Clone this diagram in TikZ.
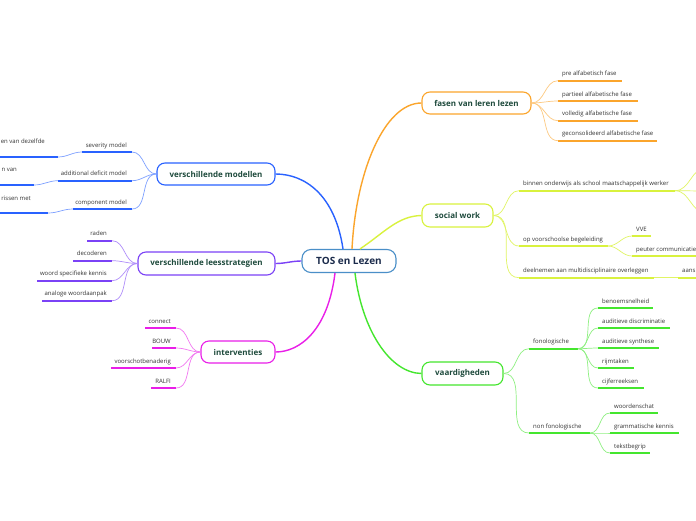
\documentclass[tikz,border=0pt]{standalone}
\usepackage{fontspec}
\setmainfont{Open Sans}
\usetikzlibrary{calc}
\definecolor{cOr}{HTML}{FBA52C}
\definecolor{cYe}{HTML}{D9F23E}
\definecolor{cGr}{HTML}{44E62E}
\definecolor{cBl}{HTML}{2962FF}
\definecolor{cPu}{HTML}{7B42F6}
\definecolor{cMa}{HTML}{E91EE8}
\definecolor{cCe}{HTML}{4A8FC8}
\definecolor{mtxt}{HTML}{1E4A3C}
\definecolor{ctxt}{HTML}{1B2B4B}
\definecolor{stxt}{HTML}{333333}
\tikzset{
  mainbox/.style={draw, rounded corners=8pt, line width=1.1pt, fill=white, text=mtxt,
    font=\bfseries\fontsize{8}{9}\selectfont, inner sep=0pt},
  centerbox/.style={draw=cCe, rounded corners=9pt, line width=1.1pt, fill=white, text=ctxt,
    font=\bfseries\fontsize{10}{11}\selectfont, inner sep=0pt, minimum width=94pt, minimum height=23pt},
  trunk/.style={line width=1.4pt},
  twig/.style={line width=0.7pt},
  ul/.style={line width=1.8pt},
  lt/.style={font=\fontsize{6}{7}\selectfont, text=stxt, inner sep=0pt},
}
\newcommand\rleaf[6]{%
  \coordinate (#1-w) at (#2,#4); \coordinate (#1-e) at (#3,#4);
  \draw[ul,#5] (#1-w) -- (#1-e);
  \node[lt,anchor=base west] (#1) at ($(#1-w)+(4,-5)$) {#6};}
\newcommand\lleaf[6]{%
  \coordinate (#1-w) at (#2,#4); \coordinate (#1-e) at (#3,#4);
  \draw[ul,#5] (#1-w) -- (#1-e);
  \node[lt,anchor=base east] (#1) at ($(#1-e)+(-5,-5)$) {#6};}
\begin{document}
\begin{tikzpicture}[x=1pt,y=-1pt]
\useasboundingbox (0,0) rectangle (696,520);
\fill[white] (0,0) rectangle (696,520);

% main nodes
\node[centerbox] (c) at (349,261) {TOS en Lezen};
\node[mainbox,draw=cOr,minimum width=109pt,minimum height=22pt] (fa) at (476.5,103) {fasen van leren lezen};
\node[mainbox,draw=cYe,minimum width=71pt,minimum height=23pt] (sw) at (457.5,215.5) {social work};
\node[mainbox,draw=cGr,minimum width=81pt,minimum height=23pt] (va) at (462.5,373.5) {vaardigheden};
\node[mainbox,draw=cBl,minimum width=118pt,minimum height=22pt] (mo) at (216,174) {verschillende modellen};
\node[mainbox,draw=cPu,minimum width=137pt,minimum height=23pt] (le) at (206.5,263.5) {verschillende leesstrategien};
\node[mainbox,draw=cMa,minimum width=74pt,minimum height=22pt] (in) at (238,352) {interventies};

% trunks
\draw[trunk,cOr] ([xshift=3pt]c.north) .. controls (356,170) and (385,103) .. (fa.west);
\draw[trunk,cYe] ([xshift=11pt]c.north) .. controls (385,232) and (398,216) .. (sw.west);
\draw[trunk,cGr] ([xshift=6pt]c.south) .. controls (362,330) and (390,373) .. (va.west);
\draw[trunk,cBl] ([xshift=-6pt]c.north) .. controls (335,195) and (305,174) .. (mo.east);
\draw[trunk,cPu] (c.west) to[out=180,in=0] (le.east);
\draw[trunk,cMa] ([xshift=-14pt]c.south) .. controls (328,330) and (300,352) .. (in.east);

% fasen van leren lezen
\rleaf{f1}{558}{622}{80.7}{cOr}{pre alfabetisch fase}
\rleaf{f2}{558}{638}{101}{cOr}{partieel alfabetische fase}
\rleaf{f3}{558}{638}{120.7}{cOr}{volledig alfabetische fase}
\rleaf{f4}{558}{657}{140.7}{cOr}{geconsolideerd alfabetische fase}
\foreach \n in {f1,f2,f3,f4} \draw[twig,cOr!60] (fa.east) to[out=0,in=180] (\n-w);

% social work
\rleaf{s1}{519}{675}{190.7}{cYe}{binnen onderwijs als school maatschappelijk werker}
\rleaf{s2}{519}{608}{246}{cYe}{op voorschoolse begeleiding}
\rleaf{s3}{519}{654}{277.7}{cYe}{deelnemen aan multidisciplinaire overleggen}
\foreach \n in {s1,s2,s3} \draw[twig,cYe!80] (sw.east) to[out=0,in=180] (\n-w);
\coordinate (sx1) at (706,168);
\coordinate (sx2) at (706,191);
\coordinate (sx3) at (706,213);
\foreach \n in {sx1,sx2,sx3} \draw[twig,cYe!80] (s1-e) to[out=0,in=180] (\n);
\rleaf{s2a}{632}{651}{236}{cYe}{VVE}
\rleaf{s2b}{632}{720}{256}{cYe}{peuter communicatie}
\foreach \n in {s2a,s2b} \draw[twig,cYe!80] (s2-e) to[out=0,in=180] (\n-w);
\rleaf{s3a}{678}{720}{277.7}{cYe}{aans}
\draw[twig,cYe!80] (s3-e) -- (s3a-w);

% vaardigheden
\rleaf{v1}{529}{578}{348.7}{cGr}{fonologische}
\rleaf{v2}{529}{590}{433}{cGr}{non fonologische}
\foreach \n in {v1,v2} \draw[twig,cGr!60] (va.east) to[out=0,in=180] (\n-w);
\rleaf{v1a}{598}{653}{308}{cGr}{benoemsnelheid}
\rleaf{v1b}{598}{670}{328}{cGr}{auditieve discriminatie}
\rleaf{v1c}{598}{659}{348}{cGr}{auditieve synthese}
\rleaf{v1d}{598}{634}{368}{cGr}{rijmtaken}
\rleaf{v1e}{598}{644}{388}{cGr}{cijferreeksen}
\foreach \n in {v1a,v1b,v1c,v1d,v1e} \draw[twig,cGr!60] (v1-e) to[out=0,in=180] (\n-w);
\rleaf{v2a}{610}{658}{413}{cGr}{woordenschat}
\rleaf{v2b}{610}{679}{433}{cGr}{grammatische kennis}
\rleaf{v2c}{610}{650}{453}{cGr}{tekstbegrip}
\foreach \n in {v2a,v2b,v2c} \draw[twig,cGr!60] (v2-e) to[out=0,in=180] (\n-w);

% verschillende modellen
\lleaf{m1}{82}{132}{152}{cBl}{severity model}
\lleaf{m2}{58}{132}{180.7}{cBl}{additional deficit model}
\lleaf{m3}{73}{132}{209}{cBl}{component model}
\foreach \n in {m1,m2,m3} \draw[twig,cBl!60] (mo.west) to[out=180,in=0] (\n-e);
\coordinate (m1a-w) at (-10,157); \coordinate (m1a-e) at (58,157);
\draw[ul,cBl] (m1a-w) -- (m1a-e);
\node[lt,anchor=base east] (m1a) at (45,143) {en van dezelfde};
\coordinate (m2a-w) at (-10,185); \coordinate (m2a-e) at (34,185);
\draw[ul,cBl] (m2a-w) -- (m2a-e);
\node[lt,anchor=base east] (m2a) at (17,171) {n van};
\coordinate (m3a-w) at (-10,213); \coordinate (m3a-e) at (48,213);
\draw[ul,cBl] (m3a-w) -- (m3a-e);
\node[lt,anchor=base east] (m3a) at (31,200) {rissen met};
\draw[twig,cBl!60] (m1-w) to[out=180,in=0] (m1a-e);
\draw[twig,cBl!60] (m2-w) to[out=180,in=0] (m2a-e);
\draw[twig,cBl!60] (m3-w) to[out=180,in=0] (m3a-e);

% verschillende leesstrategien
\lleaf{l1}{87}{112}{240.7}{cPu}{raden}
\lleaf{l2}{73}{112}{260.7}{cPu}{decoderen}
\lleaf{l3}{37}{112}{280.7}{cPu}{woord specifieke kennis}
\lleaf{l4}{42}{112}{300.7}{cPu}{analoge woordaanpak}
\foreach \n in {l1,l2,l3,l4} \draw[twig,cPu!60] (le.west) to[out=180,in=0] (\n-e);

% interventies
\lleaf{i1}{145}{176}{328}{cMa}{connect}
\lleaf{i2}{152}{176}{348}{cMa}{BOUW}
\lleaf{i3}{111}{176}{368}{cMa}{voorschotbenaderig}
\lleaf{i4}{151}{176}{388}{cMa}{RALFI}
\foreach \n in {i1,i2,i3,i4} \draw[twig,cMa!60] (in.west) to[out=180,in=0] (\n-e);
\end{tikzpicture}
\end{document}
